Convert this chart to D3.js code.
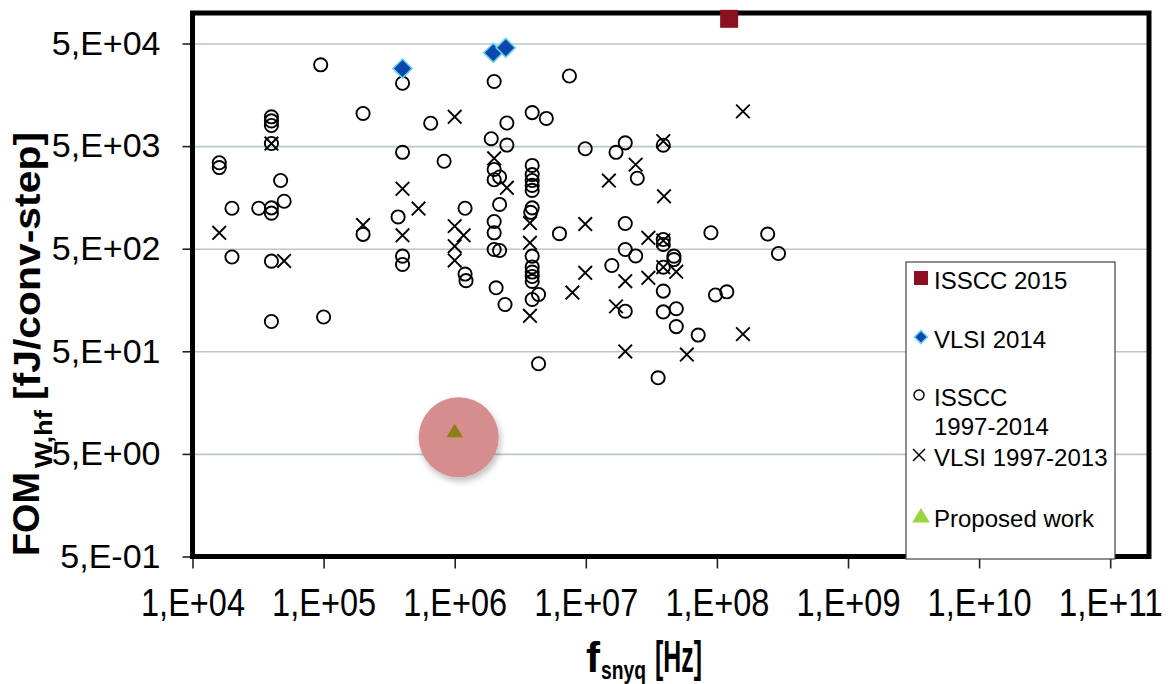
<!DOCTYPE html>
<html>
<head>
<meta charset="utf-8">
<script src="https://cdn.jsdelivr.net/npm/d3@7"></script>
<style>
  html, body { margin: 0; padding: 0; background: #fff; }
  svg { display: block; font-family: "Liberation Sans", Arial, sans-serif; }
</style>
</head>
<body>
<div id="chart"></div>
<script>
// ---- data: [f_snyq (Hz), FOM (fJ/conv-step)] ----
const isscc2015 = [[1.24e8, 8.7e4]];

const vlsi2014 = [[4.0e5, 2.85e4], [1.97e6, 4.06e4], [2.45e6, 4.54e4]];

const issccOld = [
  [9.5e4, 3.1e4], [4.0e5, 2.05e4], [2.0e6, 2.13e4], [7.5e6, 2.41e4],
  [4.0e4, 9.65e3], [4.0e4, 8.8e3], [4.0e4, 7.94e3], [4.0e4, 5.3e3],
  [2.0e5, 1.04e4], [6.56e5, 8.35e3], [3.9e6, 1.06e4], [5.0e6, 9.3e3],
  [2.5e6, 8.4e3], [1.9e6, 5.9e3], [2.5e6, 5.12e3], [9.9e6, 4.71e3],
  [1.7e7, 4.35e3], [2.0e7, 5.38e3], [3.9e7, 5.1e3], [1.6e4, 3.44e3],
  [1.6e4, 3.09e3], [4.0e5, 4.35e3], [8.3e5, 3.56e3], [2.0e6, 2.96e3],
  [2.0e6, 2.35e3], [2.2e6, 2.5e3], [3.9e6, 3.24e3], [3.9e6, 2.64e3],
  [3.9e6, 2.31e3], [3.9e6, 2.07e3], [3.9e6, 1.85e3], [2.47e7, 2.43e3],
  [4.7e4, 2.31e3], [5.0e4, 1.45e3], [2.0e4, 1.24e3], [3.2e4, 1.24e3],
  [4.0e4, 1.25e3], [4.0e4, 1.11e3], [1.2e6, 1.24e3], [2.2e6, 1.35e3],
  [3.9e6, 1.25e3], [3.8e6, 1.13e3], [3.7e5, 1.02e3], [2.0e5, 690],
  [2.0e6, 921], [2.0e6, 714], [6.3e6, 700], [2.0e7, 880],
  [9.0e7, 715], [2.44e8, 695], [2.95e8, 449], [2.0e4, 415],
  [4.0e4, 378], [4.0e5, 423], [4.0e5, 351], [1.2e6, 283],
  [1.22e6, 244], [2.0e6, 491], [2.2e6, 480], [3.9e6, 423],
  [3.9e6, 332], [3.9e6, 296], [3.9e6, 268], [3.9e6, 240],
  [2.0e7, 491], [2.4e7, 425], [1.58e7, 343], [4.7e7, 423],
  [4.7e7, 392], [3.9e7, 615], [3.9e7, 550], [3.9e7, 330],
  [2.07e6, 208], [2.42e6, 143], [3.9e6, 160], [4.36e6, 179],
  [3.9e7, 193], [9.75e7, 177], [1.19e8, 190], [2.0e7, 123],
  [3.9e7, 121], [4.9e7, 130], [4.9e7, 87], [7.2e7, 72],
  [4.0e4, 97.6], [1.0e5, 108], [4.36e6, 37.8], [3.56e7, 27.6]
];

const vlsiOld = [
  [1.58e8, 1.09e4], [1.0e6, 9.65e3], [4.0e4, 5.3e3], [3.9e7, 5.58e3],
  [2.0e6, 3.8e3], [2.4e7, 3.3e3], [1.5e7, 2.31e3], [4.0e5, 1.92e3],
  [2.5e6, 1.96e3], [3.95e7, 1.62e3], [5.3e5, 1.23e3], [1.6e4, 714],
  [2.0e5, 850], [4.0e5, 676], [1.0e6, 830], [1.17e6, 676],
  [1.0e6, 529], [1.0e6, 384], [3.75e6, 890], [3.75e6, 571],
  [9.9e6, 870], [3.0e7, 639], [3.9e7, 600], [3.9e7, 330],
  [4.9e7, 298], [3.0e7, 260], [9.9e6, 291], [2.0e7, 241],
  [7.9e6, 187], [3.75e6, 111], [1.7e7, 137], [2.0e7, 49.8],
  [5.9e7, 46.5], [1.58e8, 73.5], [5.0e4, 380]
];

const proposed = [[1.0e6, 8.3]];

const xTicks = [1e4, 1e5, 1e6, 1e7, 1e8, 1e9, 1e10, 1e11];
const xTickLabels = ["1,E+04", "1,E+05", "1,E+06", "1,E+07", "1,E+08", "1,E+09", "1,E+10", "1,E+11"];
const yTicks = [0.5, 5, 50, 500, 5000, 50000];
const yTickLabels = ["5,E-01", "5,E+00", "5,E+01", "5,E+02", "5,E+03", "5,E+04"];

const legendItems = [
  { key: "square", lines: ["ISSCC 2015"] },
  { key: "diamond", lines: ["VLSI 2014"] },
  { key: "circle", lines: ["ISSCC", "1997-2014"] },
  { key: "cross", lines: ["VLSI 1997-2013"] },
  { key: "triangle", lines: ["Proposed work"] }
];

// ---- layout ----
const W = 1168, H = 684;
const plotL = 192.5, plotR = 1149, plotT = 13, plotB = 556.5;

const svg = d3.select("#chart").append("svg")
  .attr("width", W).attr("height", H);

const defs = svg.append("defs");
const shadow = defs.append("filter").attr("id", "soft")
  .attr("x", "-30%").attr("y", "-30%").attr("width", "160%").attr("height", "160%");
shadow.append("feDropShadow").attr("dx", 2).attr("dy", 4).attr("stdDeviation", 3)
  .attr("flood-color", "#000").attr("flood-opacity", 0.25);

const x = d3.scaleLog()
  .domain([1e4, Math.pow(10, 4 + (plotR - plotL) / 131.1)])
  .range([plotL, plotR]);

const y = d3.scaleLog()
  .domain([0.5, 0.5 * Math.pow(10, (plotB - plotT) / 102.6)])
  .range([plotB, plotT]);

// GRIDLINES
svg.append("g")
  .attr("transform", `translate(${plotL},0)`)
  .call(d3.axisLeft(y).tickValues(yTicks.slice(1)).tickSize(-(plotR - plotL)).tickFormat(""))
  .call(g => g.select(".domain").remove())
  .call(g => g.selectAll("line").attr("stroke", "#b8c8c8").attr("stroke-width", 1.6));

// AXES (ticks + labels)
const xAxis = svg.append("g")
  .attr("transform", `translate(0,${plotB})`)
  .call(d3.axisBottom(x).tickValues(xTicks).tickSize(12).tickPadding(14)
    .tickFormat((d, i) => xTickLabels[i]));
xAxis.select(".domain").remove();
xAxis.selectAll("line").attr("stroke", "#222").attr("stroke-width", 1.6);
// labels in the original are tall and narrow: small font stretched vertically
xAxis.selectAll("text")
  .attr("fill", "#000")
  .attr("font-size", 33)
  .attr("y", 26)
  .attr("transform", "scale(1,1.2)")
  .attr("textLength", 104)
  .attr("lengthAdjust", "spacingAndGlyphs");

const yAxis = svg.append("g")
  .attr("transform", `translate(${plotL},0)`)
  .call(d3.axisLeft(y).tickValues(yTicks).tickSize(10).tickPadding(22)
    .tickFormat((d, i) => yTickLabels[i]));
yAxis.select(".domain").remove();
yAxis.selectAll("line").attr("stroke", "#222").attr("stroke-width", 1.6);
yAxis.selectAll("text").attr("fill", "#000").attr("font-size", 34);

// PLOT FRAME
svg.append("rect")
  .attr("x", plotL).attr("y", plotT)
  .attr("width", plotR - plotL).attr("height", plotB - plotT)
  .attr("fill", "none").attr("stroke", "#000").attr("stroke-width", 5);

// SYMBOL HELPERS
function drawCircle(g, cx, cy, r, sw) {
  g.append("circle").attr("cx", cx).attr("cy", cy).attr("r", r)
    .attr("fill", "none").attr("stroke", "#000").attr("stroke-width", sw);
}
function drawCross(g, cx, cy, h, sw) {
  g.append("path")
    .attr("d", `M${cx - h},${cy - h}L${cx + h},${cy + h}M${cx - h},${cy + h}L${cx + h},${cy - h}`)
    .attr("stroke", "#000").attr("stroke-width", sw).attr("fill", "none");
}
function drawDiamond(g, cx, cy, h) {
  g.append("path")
    .attr("d", `M${cx},${cy - h}L${cx + h},${cy}L${cx},${cy + h}L${cx - h},${cy}Z`)
    .attr("fill", "#0d47ae").attr("stroke", "#63d6e4").attr("stroke-width", 1.6);
}
function drawSquare(g, cx, cy, h, col) {
  g.append("rect").attr("x", cx - h).attr("y", cy - h)
    .attr("width", 2 * h).attr("height", 2 * h).attr("fill", col);
}
function drawTriangle(g, cx, cy, h, col) {
  g.append("path")
    .attr("d", `M${cx},${cy - h}L${cx + h * 1.1},${cy + h * 0.8}L${cx - h * 1.1},${cy + h * 0.8}Z`)
    .attr("fill", col);
}

// DATA POINTS
const pts = svg.append("g");
issccOld.forEach(d => drawCircle(pts, x(d[0]), y(d[1]), 6.6, 1.9));
vlsiOld.forEach(d => drawCross(pts, x(d[0]), y(d[1]), 6.8, 1.9));
vlsi2014.forEach(d => drawDiamond(pts, x(d[0]), y(d[1]), 9.5));

// PROPOSED WORK + HIGHLIGHT
proposed.forEach(d => {
  svg.append("circle")
    .attr("cx", x(d[0]) + 4).attr("cy", y(d[1]) + 6).attr("r", 40)
    .attr("fill", "#d58d8d").attr("filter", "url(#soft)");
  drawTriangle(svg, x(d[0]), y(d[1]), 7.5, "#8e7f14");
});

// ISSCC 2015 (sits over the top frame line)
isscc2015.forEach(d => drawSquare(svg, x(d[0]), y(d[1]), 9, "#8b1020"));

// LEGEND
const lg = svg.append("g");
lg.append("rect")
  .attr("x", 906).attr("y", 262).attr("width", 209).attr("height", 297)
  .attr("fill", "#fff").attr("stroke", "#444").attr("stroke-width", 1.2);

const legendRows = [281, 340, 398, 458, 519];
legendItems.forEach((item, i) => {
  const cy = legendRows[i];
  const sx = 921;
  if (item.key === "square") drawSquare(lg, sx, cy - 3, 7, "#8b1020");
  if (item.key === "diamond") drawDiamond(lg, sx, cy - 3, 6.5);
  if (item.key === "circle") drawCircle(lg, sx - 2, cy - 3, 5, 1.5);
  if (item.key === "cross") drawCross(lg, sx - 2, cy - 3, 6, 1.5);
  if (item.key === "triangle") drawTriangle(lg, sx, cy - 3, 8, "#9bd43c");
  item.lines.forEach((line, k) => {
    lg.append("text")
      .attr("x", 934).attr("y", cy + 29 * k)
      .attr("dy", "0.35em")
      .attr("font-size", 24)
      .attr("fill", "#000")
      .text(line);
  });
});

// X AXIS TITLE (narrow, like the original)
const xTitle = svg.append("g").attr("font-weight", "bold").attr("fill", "#000");
xTitle.append("text").attr("x", 586).attr("y", 672).attr("font-size", 42).text("f");
xTitle.append("text").attr("x", 601).attr("y", 679).attr("font-size", 25)
  .attr("textLength", 45).attr("lengthAdjust", "spacingAndGlyphs").text("snyq");
xTitle.append("text").attr("x", 655).attr("y", 672).attr("font-size", 44)
  .attr("textLength", 47).attr("lengthAdjust", "spacingAndGlyphs").text("[Hz]");

// Y AXIS TITLE (rotated)
const yTitle = svg.append("g").attr("font-weight", "bold").attr("fill", "#000");
yTitle.append("text")
  .attr("transform", "translate(39,556) rotate(-90)")
  .attr("font-size", 36)
  .attr("textLength", 84).attr("lengthAdjust", "spacingAndGlyphs")
  .text("FOM");
yTitle.append("text")
  .attr("transform", "translate(52,468) rotate(-90)")
  .attr("font-size", 23)
  .attr("textLength", 58).attr("lengthAdjust", "spacingAndGlyphs")
  .text("W,hf");
yTitle.append("text")
  .attr("transform", "translate(40,400) rotate(-90)")
  .attr("font-size", 37)
  .attr("textLength", 268).attr("lengthAdjust", "spacingAndGlyphs")
  .text("[fJ/conv-step]");
</script>
</body>
</html>
